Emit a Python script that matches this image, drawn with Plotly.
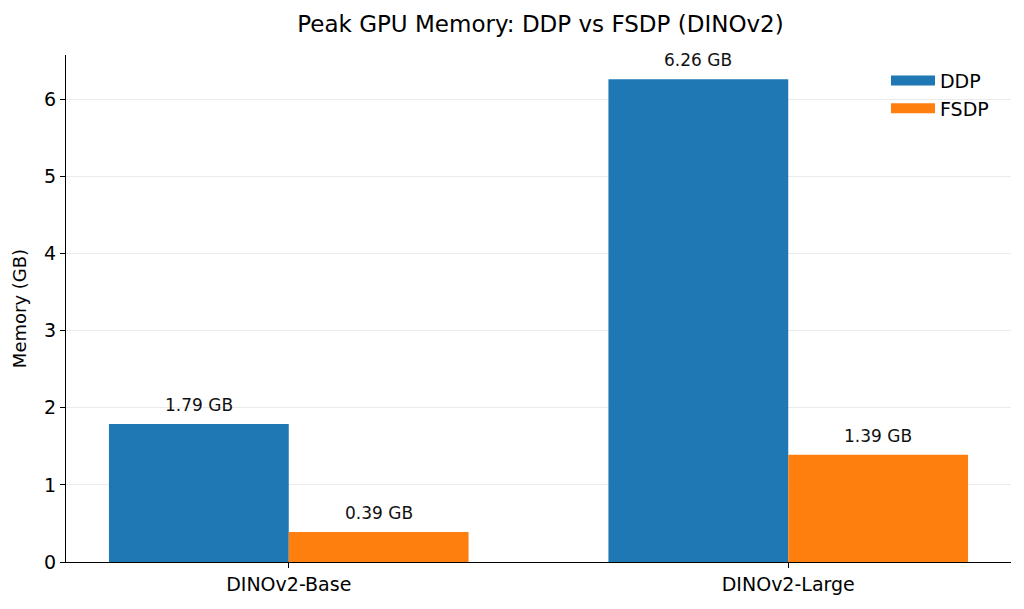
import plotly.graph_objects as go

# Daten
models = ["DINOv2-Base", "DINOv2-Large"]
ddp_mem = [1.79, 6.26]
fsdp_mem = [0.39, 1.39]
y_ticks = [0, 1, 2, 3, 4, 5, 6]

font_family = "DejaVu Sans"
bar_width = 0.36
colors = {"DDP": "#1f77b4", "FSDP": "#ff7f0e"}

pos = list(range(len(models)))
ddp_x = [p - bar_width / 2 for p in pos]
fsdp_x = [p + bar_width / 2 for p in pos]

fig = go.Figure()
for name, xs, vals in [("DDP", ddp_x, ddp_mem), ("FSDP", fsdp_x, fsdp_mem)]:
    fig.add_trace(go.Bar(
        x=xs, y=vals, width=bar_width, name=name,
        marker_color=colors[name], marker_line_width=0, showlegend=False,
    ))
    # Werte über den Balken
    for x, v in zip(xs, vals):
        fig.add_annotation(x=x, y=v, text=f"{v:.2f} GB", showarrow=False,
                           yanchor="bottom", yshift=7,
                           font=dict(size=17, color="#111"))

# Legende mit breiten Rechtecken (wie matplotlib)
for name in ["DDP", "FSDP"]:
    fig.add_trace(go.Scatter(
        x=[None], y=[None], mode="lines", name=name,
        line=dict(color=colors[name], width=14),
    ))

fig.update_layout(
    width=1024, height=609,
    margin=dict(l=58, r=21, t=47, b=55),
    paper_bgcolor="white", plot_bgcolor="white",
    font=dict(family=font_family, color="black"),
    barmode="overlay",
    title=dict(text="Peak GPU Memory: DDP vs FSDP (DINOv2)", x=0.52, xanchor="center",
               yref="container", y=0.974, yanchor="middle", font=dict(size=23)),
    legend=dict(x=0.982, xanchor="right", y=0.987, yanchor="top",
                font=dict(size=19), bgcolor="rgba(0,0,0,0)",
                itemwidth=44, tracegroupgap=4),
)
fig.update_xaxes(
    range=[-0.446, 1.446], tickvals=pos, ticktext=models,
    showline=True, linecolor="black", linewidth=1.2,
    ticks="outside", ticklen=5, tickcolor="black", tickfont=dict(size=19),
    showgrid=False, zeroline=False, automargin=False,
)
fig.update_yaxes(
    range=[0, 6.573], tickvals=y_ticks, showline=True, linecolor="black", linewidth=1.2,
    ticks="outside", ticklen=5, tickcolor="black", tickfont=dict(size=19),
    showgrid=True, gridcolor="#ebebeb", gridwidth=1, zeroline=False,
    title=dict(text="Memory (GB)", font=dict(size=18), standoff=12),
    automargin=False,
)

fig.write_html("out.html")
